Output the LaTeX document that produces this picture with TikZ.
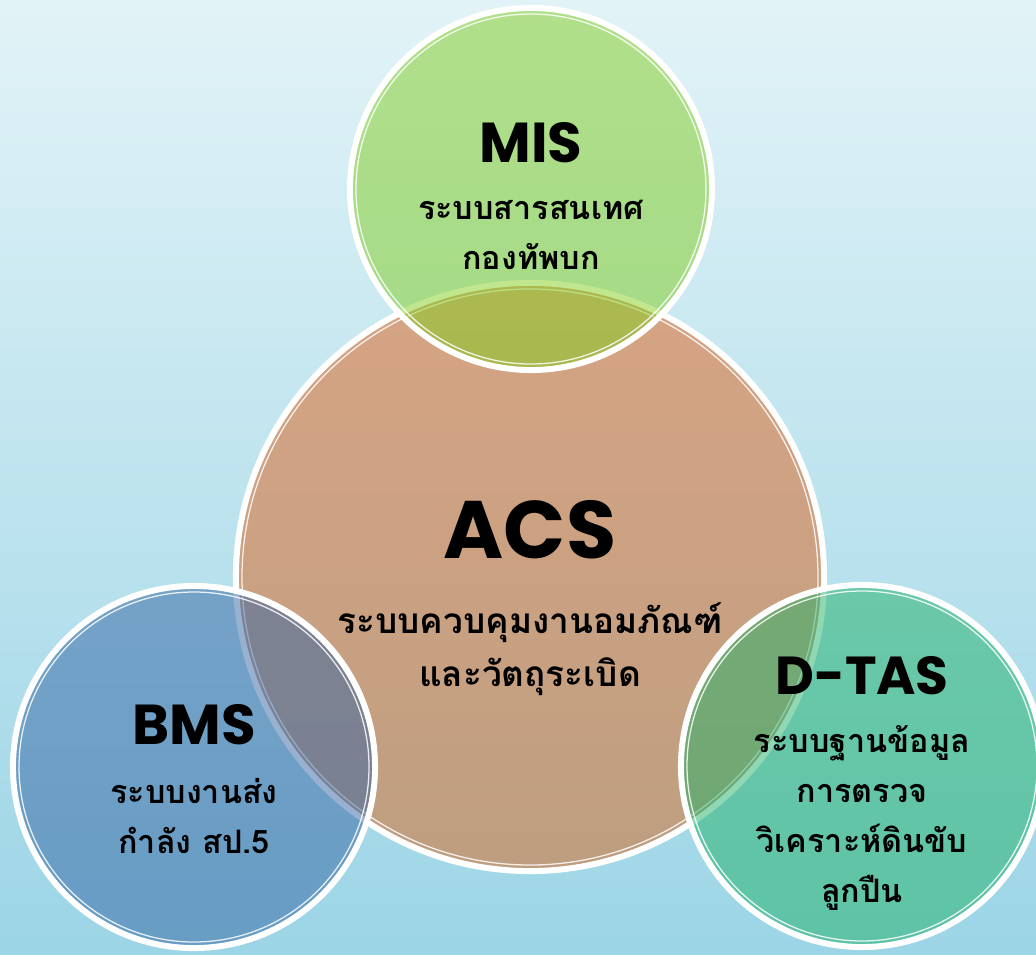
\documentclass[tikz,border=0pt]{standalone}
\usepackage{fontspec}
\newfontfamily\thaifont[Script=Thai]{Loma}
\newfontfamily\titlefont{Poppins}
\usetikzlibrary{positioning}
\definecolor{bgtop}{RGB}{226,243,247}
\definecolor{bgbot}{RGB}{156,213,230}
\definecolor{acstop}{RGB}{214,164,132}
\definecolor{acsbot}{RGB}{190,158,128}
\definecolor{misfill}{RGB}{130,206,30}
\definecolor{bmsfill}{RGB}{52,101,164}
\definecolor{dtasfill}{RGB}{33,178,104}
\begin{document}
\begin{tikzpicture}[x=0.025cm, y=-0.025cm,
    sys/.style = {circle, draw=white, line width=4.25pt, minimum size=9.05cm,
        fill opacity=0.5, inner sep=0pt},
    txt/.style = {align=center, inner sep=0pt,
        font=\thaifont\bfseries\fontsize{23}{35.5}\selectfont},
    title/.style = {font=\titlefont\bfseries\fontsize{#1}{#1}\selectfont},
    ring/.style = {white, line width=0.9pt, opacity=0.85}]
    \useasboundingbox (0,0) rectangle (1036,954);
    \shade[top color=bgtop, bottom color=bgbot] (0,0) rectangle (1036,954);
    % centre circle
    \node[sys, minimum size=14.7cm, fill opacity=1, top color=acstop, bottom color=acsbot] (acs) at (530,577) {};
    \draw[ring] (acs.center) circle (288);
    % satellites
    \node[sys, fill=misfill] (mis) at (531,189) {};
    \draw[ring] (mis.center) circle (175);
    \node[sys, fill=bmsfill] (bms) at (194,767) {};
    \draw[ring] (bms.center) circle (175);
    \node[sys, fill=dtasfill] (dtas) at (862,766) {};
    \draw[ring] (dtas.center) circle (175);
    % texts
    \node[txt, font=\thaifont\bfseries\fontsize{25}{37.5}\selectfont] (acs-txt) at (530,598)
        {{\titlefont\bfseries\fontsize{58}{58}\selectfont ACS}\\[16pt]
         ระบบควบคุมงานอมภัณฑ์\\ และวัตถุระเบิด};
    \node[txt] (mis-txt) at (531,196)
        {{\titlefont\bfseries\fontsize{40}{40}\selectfont MIS}\\[5pt]
         ระบบสารสนเทศ\\ กองทัพบก};
    \node[txt] (bms-txt) at (194,779)
        {{\titlefont\bfseries\fontsize{40}{40}\selectfont BMS}\\[7pt]
         ระบบงานส่ง\\ กำลัง สป.5};
    \node[txt] (dtas-txt) at (862,783)
        {{\titlefont\bfseries\fontsize{38}{38}\selectfont D-TAS}\\[6pt]
         ระบบฐานข้อมูล\\ การตรวจ\\ วิเคราะห์ดินขับ\\ ลูกปืน};
\end{tikzpicture}
\end{document}
